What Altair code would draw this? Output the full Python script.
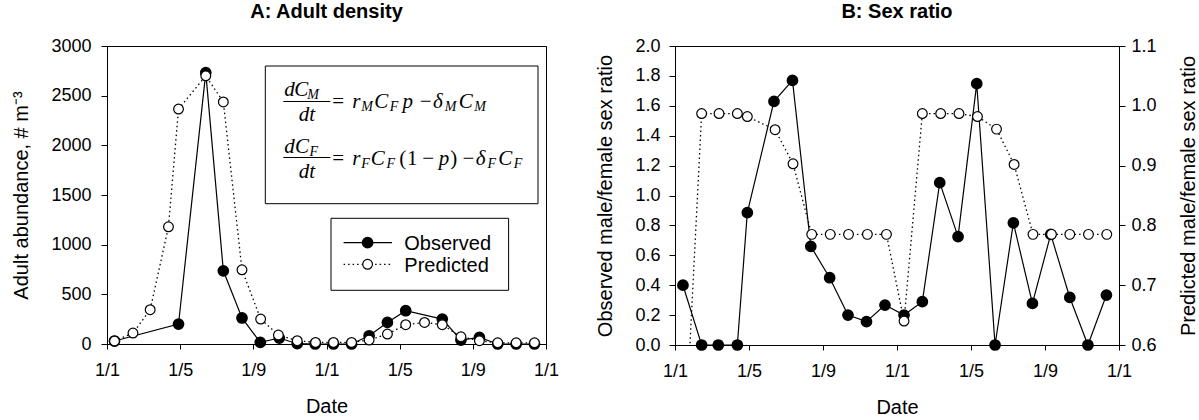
import altair as alt
import pandas as pd

# ---------------- data (months since 1 Jan of year 1) ----------------
A_obs_month = [0.41, 3.91, 5.40, 6.36, 7.38, 8.38, 9.42, 10.40, 11.38, 12.38, 13.37,
               14.33, 15.33, 16.33, 18.33, 19.35, 20.36, 21.36, 22.37, 23.37]
A_obs_value = [30, 201, 2732, 737, 262, 16, 60, 3, 0, 0, 0,
               83, 217, 335, 251, 40, 66, 0, 0, 0]

A_pred_month = [0.41, 1.42, 2.36, 3.36, 3.91, 5.40, 6.36, 7.38, 8.40, 9.37, 10.40, 11.40,
                12.38, 13.37, 14.33, 15.33, 16.33, 17.36, 18.33, 19.35, 20.36, 21.36, 22.37, 23.37]
A_pred_value = [30, 110, 345, 1180, 2365, 2700, 2437, 747, 251, 90, 33, 16,
                16, 16, 40, 100, 194, 217, 194, 73, 33, 12, 12, 12]

B_obs_month = [0.43, 1.44, 2.34, 3.37, 3.91, 5.35, 6.35, 7.34, 8.36, 9.35, 10.35, 11.35,
               12.38, 13.37, 14.31, 15.30, 16.31, 17.30, 18.29, 19.32, 20.31, 21.34, 22.32, 23.32]
B_obs_value = [0.40, 0.0, 0.0, 0.0, 0.886, 1.63, 1.77, 0.66, 0.45, 0.20, 0.156, 0.267,
               0.20, 0.29, 1.086, 0.725, 1.748, 0.0, 0.817, 0.278, 0.74, 0.318, 0.0, 0.334]

B_pred_month = [0.43, 1.44, 2.38, 3.37, 3.91, 5.41, 6.38, 7.39, 8.39, 9.38, 10.40, 11.43,
                12.38, 13.37, 14.36, 15.35, 16.35, 17.38, 18.33, 19.35, 20.35, 21.34, 22.35, 23.34]
B_pred_value = [0.37, 0.987, 0.987, 0.987, 0.982, 0.96, 0.903, 0.785, 0.785, 0.785, 0.785, 0.785,
                0.64, 0.987, 0.987, 0.987, 0.982, 0.961, 0.902, 0.785, 0.785, 0.785, 0.785, 0.785]

x_ticks = [0, 4, 8, 12, 16, 20, 24]
A_y_ticks = [0, 500, 1000, 1500, 2000, 2500, 3000]
B_left_ticks = [0.0, 0.2, 0.4, 0.6, 0.8, 1.0, 1.2, 1.4, 1.6, 1.8, 2.0]
B_right_ticks = [0.6, 0.7, 0.8, 0.9, 1.0, 1.1]

# ---------------- style ----------------
SANS = "Liberation Sans"
SERIF = "Liberation Serif"
A_W, A_H = 439, 298
B_W, B_H = 444, 299
OX, OY = 106.7, 45.0      # page position of panel A plot origin (for annotations)
PT = 95

one = pd.DataFrame({"k": [0]})


def xenc():
    return alt.X("m:Q", scale=alt.Scale(domain=[0, 24], nice=False, zero=False),
                 axis=alt.Axis(values=x_ticks, labelExpr="'1/' + ((datum.value % 12) + 1)",
                               title="Date", tickSize=5, labelPadding=12, titlePadding=17,
                               labelFlush=False, labelOverlap=False))


def txt(s, px, py, size, font=SANS, style="normal", align="left", baseline="alphabetic"):
    return alt.Chart(one).mark_text(text=s, font=font, fontSize=size, fontStyle=style,
                                    align=align, baseline=baseline, color="black").encode(
        x=alt.value(px - OX), y=alt.value(py - OY))


def rule(x1, y1, x2, y2, dash=None, width=1.0):
    kw = dict(color="black", strokeWidth=width)
    if dash:
        kw["strokeDash"] = dash
    return alt.Chart(one).mark_rule(**kw).encode(
        x=alt.value(x1 - OX), x2=alt.value(x2 - OX), y=alt.value(y1 - OY), y2=alt.value(y2 - OY))


def box(x1, y1, x2, y2):
    return alt.Chart(one).mark_rect(fill="white", stroke="black", strokeWidth=1).encode(
        x=alt.value(x1 - OX), x2=alt.value(x2 - OX), y=alt.value(y1 - OY), y2=alt.value(y2 - OY))


def dot(px, py, filled):
    if filled:
        m = alt.Chart(one).mark_point(shape="circle", filled=True, fill="black", stroke="black",
                                      size=PT, opacity=1)
    else:
        m = alt.Chart(one).mark_point(shape="circle", filled=True, fill="white", stroke="black",
                                      strokeWidth=1.2, size=PT, opacity=1)
    return m.encode(x=alt.value(px - OX), y=alt.value(py - OY))


CW = {"=": 0.564, "−": 0.564, "r": 0.389, "C": 0.667, "F": 0.611, "M": 0.833, "p": 0.5,
      "δ": 0.5, "(": 0.333, ")": 0.333, "1": 0.5, "d": 0.5, "t": 0.278}


def formula(pieces, x0, x1, base, main=21, sub=14):
    """pieces: (text, kind) kind: i italic, u upright, s subscript, g gap(px)"""
    widths = []
    for t, k in pieces:
        if k == "g":
            widths.append(float(t))
        else:
            size = sub if k == "s" else main
            widths.append(sum(CW.get(c, 0.5) for c in t) * size)
    scale = (x1 - x0) / sum(widths)
    layers = []
    cx = x0
    for (t, k), w in zip(pieces, widths):
        if k == "i":
            layers.append(txt(t, cx, base, main, SERIF, "italic"))
        elif k == "u":
            layers.append(txt(t, cx, base, main, SERIF, "normal"))
        elif k == "s":
            layers.append(txt(t, cx, base + 3, sub, SERIF, "italic"))
        cx += w * scale
    return layers


# ---------------- panel A ----------------
dfA_obs = pd.DataFrame({"m": A_obs_month, "v": A_obs_value})
dfA_pred = pd.DataFrame({"m": A_pred_month, "v": A_pred_value})
yA = alt.Y("v:Q", scale=alt.Scale(domain=[0, 3000], nice=False),
           axis=alt.Axis(values=A_y_ticks, format="d", title="Adult abundance, # m⁻³", tickSize=6,
                         labelPadding=10, titlePadding=19))

a_layers = [
    alt.Chart(dfA_obs).mark_line(color="black", strokeWidth=1.2).encode(x=xenc(), y=yA),
    alt.Chart(dfA_pred).mark_line(color="black", strokeWidth=1.3, strokeDash=[1.5, 3]).encode(x=xenc(), y=yA),
    alt.Chart(dfA_obs).mark_point(shape="circle", filled=True, fill="black", stroke="black",
                                  size=PT, opacity=1).encode(x=xenc(), y=yA),
    alt.Chart(dfA_pred).mark_point(shape="circle", filled=True, fill="white", stroke="black",
                                   strokeWidth=1.2, size=PT, opacity=1).encode(x=xenc(), y=yA),
]

# equation box
a_layers.append(box(265, 65, 537.7, 202.7))
# equation 1
a_layers += formula([("d", "i"), ("C", "i"), ("M", "s")], 284, 318, 95)
a_layers.append(rule(283, 100.5, 330, 100.5))
a_layers.append(txt("dt", 306.5, 120, 21, SERIF, "italic", align="center"))
a_layers += formula([("=", "u"), ("6", "g"), ("r", "i"), ("M", "s"), ("C", "i"), ("F", "s"),
                     ("3", "g"), ("p", "i"), ("5", "g"), ("−", "u"), ("δ", "i"), ("M", "s"),
                     ("1", "g"), ("C", "i"), ("M", "s")], 332, 487, 107)
# equation 2
a_layers += formula([("d", "i"), ("C", "i"), ("F", "s")], 284, 318, 152)
a_layers.append(rule(283, 156.5, 330, 156.5))
a_layers.append(txt("dt", 306.5, 176.5, 21, SERIF, "italic", align="center"))
a_layers += formula([("=", "u"), ("6", "g"), ("r", "i"), ("F", "s"), ("C", "i"), ("F", "s"),
                     ("3", "g"), ("(", "u"), ("1", "u"), ("3", "g"), ("−", "u"), ("3", "g"),
                     ("p", "i"), (")", "u"), ("4", "g"), ("−", "u"), ("δ", "i"), ("F", "s"),
                     ("1", "g"), ("C", "i"), ("F", "s")], 332, 523, 164)

# legend
a_layers.append(box(330.7, 217.3, 508.3, 289.3))
a_layers.append(rule(343.3, 241.7, 391.7, 241.7, width=1.2))
a_layers.append(dot(367.3, 241.7, True))
a_layers.append(txt("Observed", 404, 242.5, 20, baseline="middle"))
a_layers.append(rule(343.3, 263.3, 391.7, 263.3, dash=[1.5, 3], width=1.3))
a_layers.append(dot(367.3, 263.3, False))
a_layers.append(txt("Predicted", 404, 264.5, 20, baseline="middle"))

panelA = alt.layer(*a_layers).properties(
    width=A_W, height=A_H,
    title=alt.TitleParams("A: Adult density", fontSize=20, fontWeight="bold", font=SANS,
                          anchor="middle", frame="group", offset=15, color="black"))

# ---------------- panel B ----------------
dfB_obs = pd.DataFrame({"m": B_obs_month, "v": B_obs_value})
dfB_pred = pd.DataFrame({"m": B_pred_month, "v": B_pred_value})
yB_obs = alt.Y("v:Q", scale=alt.Scale(domain=[0, 2], nice=False),
               axis=alt.Axis(values=B_left_ticks, format=".1f", orient="left",
                             title="Observed male/female sex ratio", tickSize=6,
                             labelPadding=9, titlePadding=19))
yB_pred = alt.Y("v:Q", scale=alt.Scale(domain=[0.6, 1.1], nice=False, zero=False),
                axis=alt.Axis(values=B_right_ticks, format=".1f", orient="right",
                              title="Predicted male/female sex ratio", tickSize=6,
                              labelPadding=6, titlePadding=22, titleAngle=270,
                              titleBaseline="top"))

b_obs = alt.layer(
    alt.Chart(dfB_obs).mark_line(color="black", strokeWidth=1.2).encode(x=xenc(), y=yB_obs),
    alt.Chart(dfB_obs).mark_point(shape="circle", filled=True, fill="black", stroke="black",
                                  size=PT, opacity=1).encode(x=xenc(), y=yB_obs),
)
b_pred = alt.layer(
    alt.Chart(dfB_pred).mark_line(color="black", strokeWidth=1.3, strokeDash=[1.5, 3],
                                  clip=True).encode(x=xenc(), y=yB_pred),
    alt.Chart(dfB_pred).mark_point(shape="circle", filled=True, fill="white", stroke="black",
                                   strokeWidth=1.2, size=PT, opacity=1, clip=True).encode(x=xenc(), y=yB_pred),
)
panelB = alt.layer(b_obs, b_pred).resolve_scale(y="independent").properties(
    width=B_W, height=B_H,
    title=alt.TitleParams("B: Sex ratio", fontSize=20, fontWeight="bold", font=SANS,
                          anchor="middle", frame="group", offset=15, color="black"))

chart = alt.hconcat(panelA, panelB, spacing=35).properties(
    padding={"left": 11, "top": 1, "right": 0, "bottom": 0},
    background="white",
).configure_view(stroke="black", strokeWidth=1).configure_axis(
    grid=False, domainColor="black", tickColor="black", labelColor="black", titleColor="black",
    labelFont=SANS, titleFont=SANS, labelFontSize=18, titleFontSize=20, titleFontWeight="normal",
    domainWidth=1, tickWidth=1,
)

chart.save("out.html", embed_options={"renderer": "svg", "actions": False})
